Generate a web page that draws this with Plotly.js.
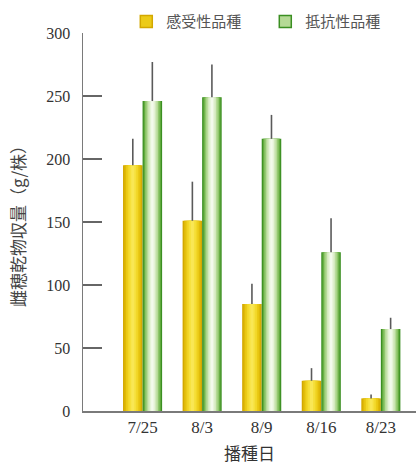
<!DOCTYPE html>
<html>
<head>
<meta charset="utf-8">
<script src="https://cdn.plot.ly/plotly-3.0.1.min.js"></script>
<style>
  html, body { margin: 0; padding: 0; background: #fff; }
  #chart { width: 416px; height: 467px; }
</style>
</head>
<body>
<div id="chart"></div>
<script>
// Sowing dates and ear dry-matter yield (g/plant) with upper error bars
const sowingDates = ['7/25', '8/3', '8/9', '8/16', '8/23'];
const susceptibleYield = [195, 151, 85, 24, 10];
const susceptibleErr = [21, 31, 16, 10, 3];
const resistantYield = [246, 249, 216, 126, 65];
const resistantErr = [31, 26, 19, 27, 9];
const seriesNames = ['感受性品種', '抵抗性品種'];

// Bar geometry (category units) and cylinder-like shading bands, outer to inner
const BAR_W = 0.328;
const yellowBands = [
  [1.00, '#d3a800'], [0.86, '#dfb908'], [0.70, '#eac915'],
  [0.52, '#f2d728'], [0.34, '#f6e03c'], [0.16, '#f9e755']
];
const greenBands = [
  [1.00, '#3b8f22'], [0.88, '#62ab3e'], [0.74, '#8fc66b'],
  [0.58, '#b5da96'], [0.42, '#d3e9bd'], [0.26, '#e6f3d8'], [0.12, '#f3faec']
];

function bandTraces(values, errs, bands, left, name, legendColor) {
  const traces = [];
  bands.forEach(([frac, color], i) => {
    const w = BAR_W * frac;
    const isTop = i === bands.length - 1;
    const t = {
      type: 'bar',
      x: sowingDates,
      y: values,
      width: w,
      offset: left + (BAR_W - w) / 2,
      marker: { color: color, line: { width: 0 } },
      hoverinfo: 'skip',
      showlegend: false,
      name: name
    };
    if (isTop) {
      t.error_y = {
        type: 'data', symmetric: false,
        array: errs, arrayminus: errs.map(() => 0),
        color: '#5a5a5a', thickness: 1.6, width: 0
      };
    }
    traces.push(t);
  });
  // legend entry
  traces.push({
    type: 'bar', x: [null], y: [null], name: name,
    marker: { color: legendColor, line: { color: bands[0][1], width: 1.5 } },
    showlegend: true, hoverinfo: 'skip'
  });
  return traces;
}

const data = [
  ...bandTraces(susceptibleYield, susceptibleErr, yellowBands, -BAR_W, seriesNames[0], '#eccb18'),
  ...bandTraces(resistantYield, resistantErr, greenBands, 0, seriesNames[1], '#b5da96')
];

const numFont = 'Liberation Serif, "Noto Sans CJK JP", serif';
const cjkFont = '"Noto Sans CJK JP", sans-serif';

const layout = {
  width: 416, height: 467,
  margin: { l: 83, r: 0, t: 33, b: 56, autoexpand: false },
  paper_bgcolor: '#ffffff', plot_bgcolor: '#ffffff',
  barmode: 'overlay',
  showlegend: true,
  legend: {
    orientation: 'h', x: 0.13, xanchor: 'left', y: 1.03, yanchor: 'middle',
    font: { family: cjkFont, size: 15, color: '#555' },
    bgcolor: 'rgba(0,0,0,0)', itemwidth: 30, entrywidth: 94,
    tracegroupgap: 0
  },
  xaxis: {
    type: 'category',
    categoryarray: sowingDates,
    range: [-1, 4.59],
    showline: true, linecolor: '#7a7a7a', linewidth: 1.5,
    ticks: '', showgrid: false, zeroline: false,
    tickfont: { family: numFont, size: 17, color: '#333' },
    title: { text: '播種日', font: { family: cjkFont, size: 17, color: '#333' }, standoff: 12 }
  },
  yaxis: {
    range: [0, 300],
    tickvals: [0, 50, 100, 150, 200, 250, 300],
    showline: true, linecolor: '#7a7a7a', linewidth: 1.5,
    ticks: 'inside', ticklen: 19, tickwidth: 1.3, tickcolor: '#666',
    ticklabelstandoff: 8,
    showgrid: false, zeroline: false,
    tickfont: { family: numFont, size: 16, color: '#333' },
    title: { text: '雌穂乾物収量（g/株）', font: { family: cjkFont, size: 17, color: '#444' }, standoff: 16 }
  }
};

Plotly.newPlot('chart', data, layout, { staticPlot: true, displayModeBar: false });
</script>
</body>
</html>
